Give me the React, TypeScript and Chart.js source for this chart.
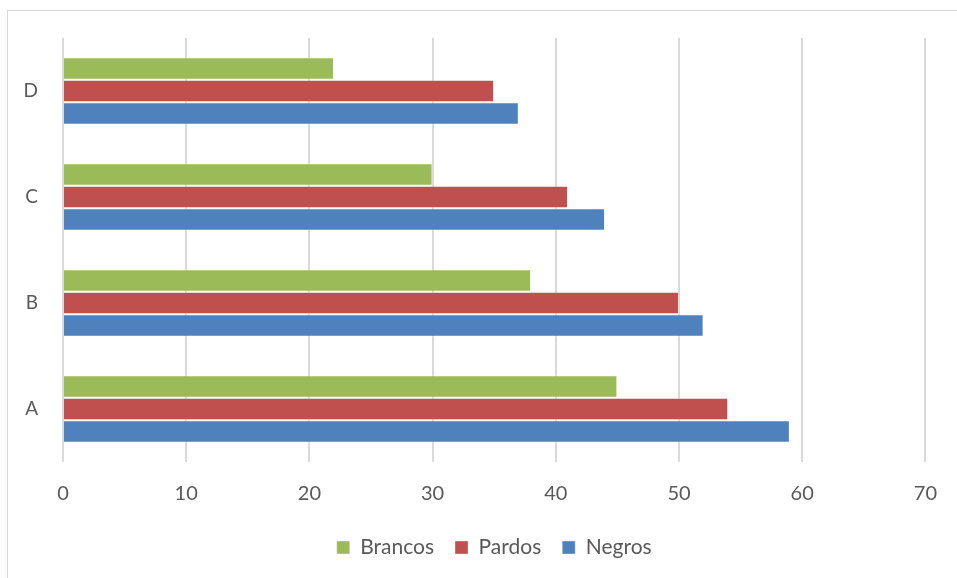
import React, { useEffect, useRef } from "react";
import { Chart, registerables } from "chart.js";

Chart.register(...registerables);

// Categories listed top to bottom
const categories = ["D", "C", "B", "A"];
const brancos = [22, 30, 38, 45];
const pardos = [35, 41, 50, 54];
const negros = [37, 44, 52, 59];
const xTicks = [0, 10, 20, 30, 40, 50, 60, 70];

const FONT = "Lato, 'Open Sans', sans-serif";
const TEXT = "#595959";

export default function App() {
  const ref = useRef<HTMLCanvasElement | null>(null);

  useEffect(() => {
    if (!ref.current) return;
    const chart = new Chart(ref.current, {
      type: "bar",
      data: {
        labels: categories,
        datasets: [
          { label: "Brancos", data: brancos, backgroundColor: "#9BBB59", borderColor: "rgba(255,255,255,0.35)", borderWidth: 1 },
          { label: "Pardos", data: pardos, backgroundColor: "#C0504D", borderColor: "rgba(255,255,255,0.35)", borderWidth: 1 },
          { label: "Negros", data: negros, backgroundColor: "#4F81BD", borderColor: "rgba(255,255,255,0.35)", borderWidth: 1 },
        ],
      },
      options: {
        indexAxis: "y",
        responsive: false,
        animation: false,
        maintainAspectRatio: false,
        layout: { padding: { left: 20, right: 26, top: 38, bottom: 10 } },
        datasets: { bar: { categoryPercentage: 0.635, barPercentage: 1.0 } },
        scales: {
          x: {
            min: 0,
            max: 70,
            afterBuildTicks: (scale: any) => {
              scale.ticks = xTicks.map((v) => ({ value: v }));
            },
            afterFit: (scale: any) => {
              scale.height = 54;
            },
            grid: { color: "#d9d9d9", lineWidth: 2, drawTicks: false },
            border: { display: false },
            ticks: { color: TEXT, font: { family: FONT, size: 20 }, padding: 20 },
          },
          y: {
            grid: { display: false, drawTicks: false },
            border: { display: false },
            afterFit: (scale: any) => {
              scale.width = 43;
            },
            ticks: { color: TEXT, font: { family: FONT, size: 19 }, padding: 25 },
          },
        },
        plugins: {
          legend: {
            position: "bottom",
            fullSize: false,
            labels: {
              color: TEXT,
              font: { family: FONT, size: 21 },
              boxWidth: 13,
              boxHeight: 13,
              padding: 21,
            },
          },
          tooltip: { enabled: false },
        },
      },
    });
    return () => chart.destroy();
  }, []);

  return (
    <div style={{ position: "fixed", left: 0, top: 0, width: 957, height: 578, background: "#fff" }}>
      <div
        style={{
          position: "absolute",
          left: 7,
          top: 10,
          width: 950,
          height: 568,
          borderLeft: "1px solid #d9d9d9",
          borderTop: "1px solid #d9d9d9",
        }}
      />
      <canvas ref={ref} width={957} height={578} style={{ position: "absolute", left: 0, top: 0 }} />
    </div>
  );
}
